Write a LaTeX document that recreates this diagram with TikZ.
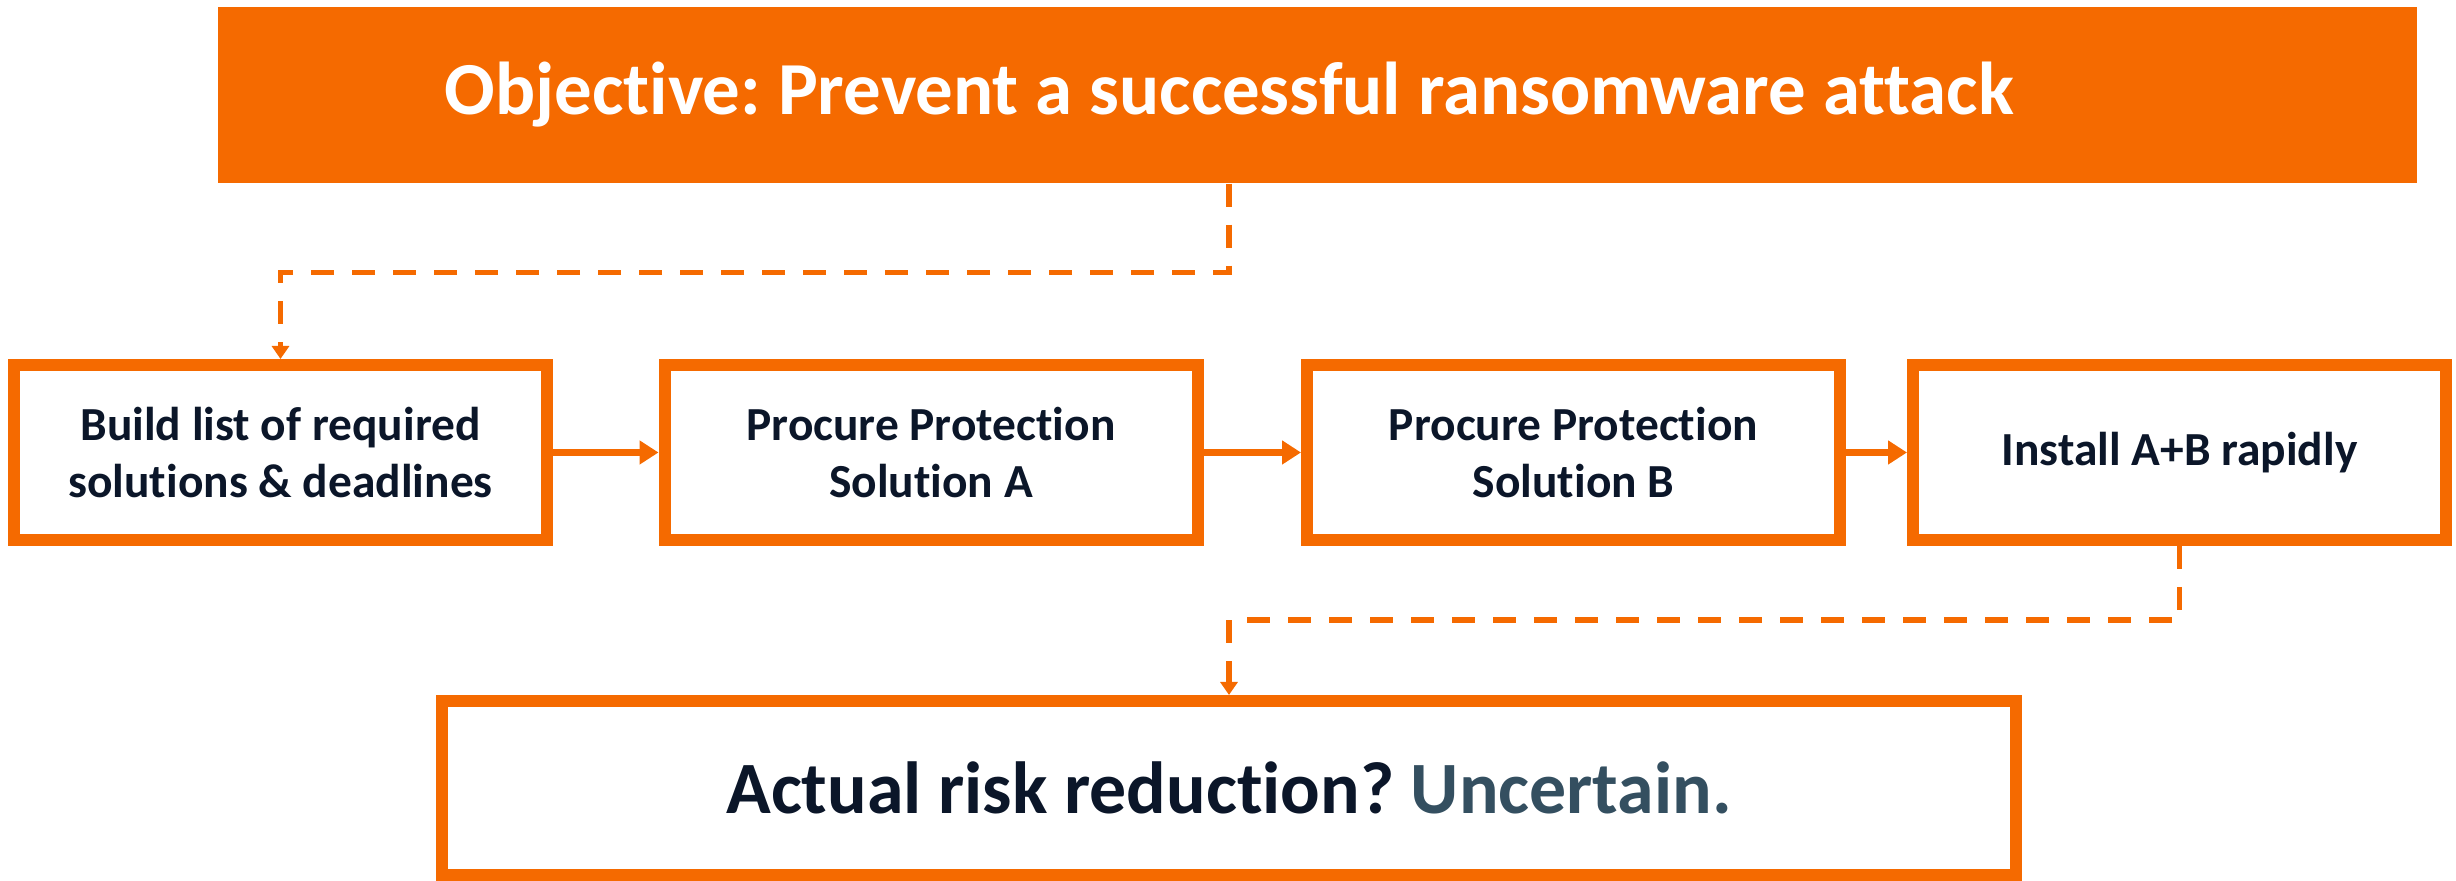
\documentclass[tikz,border=0pt]{standalone}
\usepackage{fontspec}
\setmainfont{Carlito}[Ligatures=NoCommon]
\frenchspacing
\usetikzlibrary{arrows.meta}
\definecolor{brand}{RGB}{245,106,0}
\definecolor{ink}{RGB}{11,22,41}
\definecolor{slate}{RGB}{52,79,96}
\begin{document}
\begin{tikzpicture}[
    goalbox/.style={fill=brand, text=white, minimum width=21.99cm, minimum height=1.76cm,
      font=\bfseries\fontsize{21.3}{25}\selectfont},
    stepbox/.style={draw=brand, line width=0.12cm, minimum width=5.33cm, minimum height=1.75cm,
      align=center, text=ink, font=\bfseries\fontsize{13.5}{16.4}\selectfont},
    resultbox/.style={draw=brand, line width=0.12cm, minimum width=15.74cm, minimum height=1.74cm,
      text=ink, font=\bfseries\fontsize{21}{25}\selectfont},
    flow/.style={draw=brand, line width=0.077cm, -{Triangle[length=0.19cm,width=0.23cm]}},
    link/.style={draw=brand, line width=0.053cm, dash pattern=on 0.23cm off 0.18cm,
      -{Triangle[length=0.13cm,width=0.17cm]}}
  ]
  \useasboundingbox (0,0) rectangle (24.56,8.81);
  \draw
    (13.175,7.86) node[goalbox] (goal){Objective: Prevent a successful ransomware attack\hspace*{1.76cm}}
    (2.805,4.285) node[stepbox] (build){Build list of required\\solutions \& deadlines}
    (9.31,4.285) node[stepbox] (procA){Procure Protection\\Solution A}
    (15.735,4.285) node[stepbox] (procB){Procure Protection\\Solution B}
    (21.795,4.285) node[stepbox] (install){Install A+B rapidly}
    (12.29,0.93) node[resultbox] (result){Actual risk reduction? \textcolor{slate}{Uncertain.}};
  \begin{scope}[flow]
    \draw (build) to (procA);
    \draw (procA) to (procB);
    \draw (procB) to (install);
  \end{scope}
  \begin{scope}[link]
    \draw (goal.south -| result.north) -- ++(0,-0.89) -| (build.north);
    \draw (install.south) -- ++(0,-0.74) -| (result.north);
  \end{scope}
\end{tikzpicture}
\end{document}
